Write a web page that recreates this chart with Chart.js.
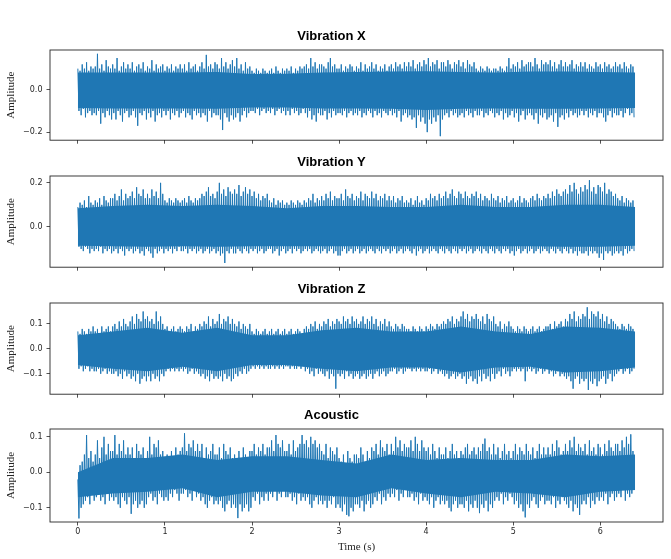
<!DOCTYPE html>
<html>
<head>
<meta charset="utf-8">
<script src="https://cdn.jsdelivr.net/npm/chart.js@4.4.1/dist/chart.umd.min.js"></script>
<style>
  html, body { margin: 0; padding: 0; background: #fff; }
  body { width: 671px; height: 559px; position: relative; overflow: hidden; }
  canvas { position: absolute; left: 0; }
</style>
</head>
<body>
<canvas id="vibXChart" width="671" height="120" style="top:29px"></canvas>
<canvas id="vibYChart" width="671" height="121" style="top:155px"></canvas>
<canvas id="vibZChart" width="671" height="121" style="top:282px"></canvas>
<canvas id="acousticChart" width="671" height="150" style="top:408px"></canvas>
<script>
// Sensor traces, read off the plot as the upper / lower excursion in each
// 0.025 s bin, plus the solid core band every 0.4 s.
const timeTicks = [0, 1, 2, 3, 4, 5, 6];
const binStep = 0.025;
const coreStep = 0.4;

// Vibration X
const vibXHi = [
  .10,.09,.12,.10,.13,.09,.11,.10, .11,.17,.10,.12,.09,.14,.11,.10,
  .12,.10,.15,.09,.11,.13,.10,.12, .10,.13,.09,.11,.12,.10,.13,.09,
  .11,.10,.14,.09,.12,.10,.11,.12, .09,.11,.10,.12,.09,.11,.10,.12,
  .10,.12,.09,.13,.10,.11,.12,.09, .11,.13,.10,.165,.11,.12,.10,.13,
  .12,.10,.15,.11,.13,.10,.12,.14, .11,.15,.10,.12,.09,.13,.10,.11,
  .09,.08,.10,.09,.08,.10,.09,.08, .09,.10,.08,.11,.09,.08,.10,.09,
  .10,.09,.11,.08,.10,.09,.11,.10, .11,.12,.10,.15,.11,.13,.10,.12,
  .12,.11,.10,.13,.15,.11,.12,.10, .10,.12,.09,.11,.10,.12,.11,.09,
  .11,.10,.13,.09,.12,.10,.11,.13, .10,.12,.09,.11,.10,.12,.09,.11,
  .12,.10,.13,.11,.12,.10,.13,.11, .13,.11,.14,.10,.12,.13,.11,.14,
  .12,.15,.11,.13,.12,.14,.10,.13, .13,.11,.14,.12,.10,.13,.12,.14,
  .11,.13,.10,.14,.12,.11,.13,.10, .09,.11,.10,.09,.11,.10,.09,.10,
  .10,.09,.11,.10,.09,.11,.15,.10, .12,.11,.13,.10,.14,.11,.12,.13,
  .13,.11,.15,.12,.10,.14,.12,.13, .12,.14,.11,.13,.10,.12,.14,.11,
  .13,.11,.12,.14,.10,.12,.11,.13, .11,.13,.10,.12,.11,.10,.13,.11,
  .12,.10,.13,.11,.12,.10,.11,.13, .11,.12,.10,.13,.11,.10,.12,.11];
const vibXLo = [
  -.10,-.12,-.09,-.13,-.11,-.10,-.12,-.11, -.12,-.10,-.16,-.11,-.13,-.10,-.12,-.14,
  -.11,-.14,-.10,-.12,-.15,-.11,-.10,-.13, -.12,-.10,-.13,-.17,-.11,-.12,-.10,-.14,
  -.11,-.13,-.10,-.15,-.12,-.11,-.13,-.10, -.12,-.10,-.14,-.11,-.12,-.10,-.13,-.11,
  -.10,-.13,-.11,-.12,-.14,-.10,-.12,-.11, -.13,-.11,-.12,-.15,-.10,-.13,-.11,-.12,
  -.12,-.14,-.19,-.11,-.13,-.15,-.12,-.14, -.13,-.11,-.15,-.12,-.10,-.13,-.11,-.10,
  -.10,-.11,-.09,-.12,-.10,-.09,-.11,-.10, -.11,-.09,-.12,-.10,-.09,-.11,-.10,-.12,
  -.10,-.12,-.09,-.11,-.10,-.12,-.11,-.09, -.11,-.13,-.10,-.14,-.12,-.15,-.11,-.12,
  -.12,-.10,-.14,-.11,-.13,-.10,-.12,-.11, -.11,-.12,-.10,-.13,-.11,-.10,-.12,-.11,
  -.12,-.10,-.13,-.11,-.12,-.10,-.11,-.13, -.10,-.12,-.11,-.13,-.10,-.11,-.12,-.10,
  -.12,-.11,-.13,-.10,-.15,-.12,-.11,-.13, -.12,-.14,-.13,-.18,-.12,-.15,-.13,-.16,
  -.20,-.14,-.16,-.13,-.15,-.12,-.219,-.14, -.12,-.11,-.13,-.10,-.12,-.11,-.13,-.12,
  -.11,-.13,-.10,-.12,-.11,-.13,-.10,-.12, -.12,-.10,-.13,-.11,-.12,-.10,-.11,-.13,
  -.11,-.12,-.10,-.14,-.11,-.13,-.12,-.10, -.13,-.11,-.15,-.12,-.10,-.14,-.12,-.11,
  -.12,-.14,-.11,-.16,-.12,-.13,-.11,-.14, -.13,-.12,-.15,-.11,-.175,-.13,-.12,-.14,
  -.11,-.13,-.10,-.12,-.11,-.13,-.12,-.10, -.12,-.10,-.13,-.11,-.12,-.10,-.13,-.11,
  -.11,-.13,-.15,-.12,-.10,-.13,-.11,-.12, -.12,-.10,-.13,-.11,-.09,-.12,-.11,-.13];
const vibXCoreHi = [.082,.082,.082,.082,.084,.075,.076,.082,.084,.086,.088,.084,.082,.086,.086,.084,.082];
const vibXCoreLo = [-.086,-.088,-.088,-.088,-.09,-.084,-.084,-.088,-.088,-.09,-.095,-.09,-.088,-.09,-.09,-.088,-.086];
const vibXLimits = [-0.238, 0.188];
const vibXTicks = [-0.2, 0.0];

// Vibration Y
const vibYHi = [
  .09,.11,.10,.12,.09,.14,.11,.10, .12,.11,.13,.10,.14,.12,.11,.13,
  .13,.15,.12,.14,.17,.12,.15,.13, .14,.16,.13,.18,.15,.14,.17,.13,
  .15,.13,.17,.14,.16,.13,.20,.15, .12,.11,.13,.12,.11,.13,.12,.11,
  .12,.13,.11,.14,.12,.11,.13,.12, .13,.15,.14,.16,.18,.14,.15,.13,
  .16,.20,.15,.17,.14,.18,.16,.15, .17,.15,.19,.14,.16,.18,.15,.17,
  .14,.16,.13,.15,.12,.14,.13,.15, .12,.11,.13,.10,.12,.11,.12,.10,
  .11,.10,.12,.11,.10,.12,.11,.10, .12,.11,.13,.12,.15,.11,.13,.12,
  .14,.12,.15,.13,.16,.12,.14,.13, .13,.15,.12,.17,.14,.13,.15,.12,
  .14,.13,.16,.12,.15,.14,.13,.16, .13,.15,.12,.14,.13,.15,.12,.14,
  .12,.14,.11,.13,.12,.14,.11,.12, .11,.13,.10,.12,.14,.11,.12,.10,
  .13,.12,.15,.13,.14,.12,.15,.13, .14,.16,.13,.15,.17,.14,.13,.16,
  .15,.13,.16,.14,.13,.15,.14,.16, .13,.15,.12,.14,.13,.12,.15,.13,
  .12,.14,.11,.13,.12,.14,.11,.12, .13,.11,.12,.14,.11,.13,.12,.11,
  .13,.14,.12,.15,.13,.12,.14,.13, .15,.13,.16,.14,.17,.15,.14,.16,
  .17,.15,.19,.16,.20,.17,.15,.18, .16,.19,.17,.212,.16,.18,.15,.19,
  .18,.16,.20,.15,.17,.16,.14,.15, .13,.12,.14,.11,.13,.12,.11,.12];
const vibYLo = [
  -.09,-.10,-.11,-.09,-.10,-.12,-.10,-.11, -.10,-.11,-.09,-.12,-.10,-.11,-.10,-.12,
  -.11,-.10,-.12,-.10,-.11,-.13,-.10,-.11, -.10,-.12,-.11,-.10,-.12,-.11,-.13,-.10,
  -.11,-.12,-.14,-.10,-.12,-.11,-.10,-.12, -.10,-.11,-.10,-.12,-.10,-.11,-.09,-.11,
  -.11,-.10,-.12,-.10,-.11,-.10,-.12,-.11, -.10,-.12,-.11,-.10,-.12,-.11,-.10,-.12,
  -.11,-.13,-.12,-.164,-.11,-.12,-.10,-.12, -.12,-.10,-.11,-.12,-.10,-.11,-.12,-.10,
  -.11,-.10,-.12,-.11,-.10,-.12,-.11,-.10, -.10,-.12,-.11,-.10,-.13,-.11,-.10,-.12,
  -.11,-.10,-.12,-.10,-.11,-.10,-.12,-.11, -.10,-.11,-.10,-.12,-.11,-.10,-.11,-.12,
  -.11,-.10,-.12,-.11,-.10,-.12,-.11,-.13, -.13,-.11,-.10,-.12,-.11,-.10,-.12,-.11,
  -.10,-.12,-.11,-.10,-.12,-.11,-.10,-.11, -.12,-.10,-.11,-.12,-.10,-.11,-.10,-.12,
  -.11,-.10,-.12,-.11,-.10,-.12,-.11,-.10, -.11,-.12,-.10,-.13,-.11,-.10,-.12,-.11,
  -.10,-.12,-.11,-.10,-.11,-.12,-.10,-.11, -.12,-.10,-.11,-.12,-.10,-.11,-.12,-.10,
  -.11,-.10,-.12,-.11,-.10,-.12,-.11,-.10, -.11,-.12,-.10,-.11,-.12,-.10,-.11,-.12,
  -.10,-.11,-.12,-.10,-.11,-.10,-.12,-.11, -.13,-.11,-.10,-.12,-.11,-.10,-.12,-.11,
  -.10,-.12,-.11,-.10,-.12,-.11,-.10,-.11, -.12,-.10,-.11,-.12,-.10,-.11,-.12,-.10,
  -.11,-.12,-.10,-.12,-.11,-.13,-.11,-.12, -.12,-.11,-.13,-.11,-.12,-.11,-.12,-.14,
  -.12,-.15,-.11,-.12,-.11,-.13,-.12,-.11, -.12,-.11,-.13,-.10,-.12,-.11,-.10,-.11];
const vibYCoreHi = [.085,.095,.10,.095,.10,.095,.085,.095,.095,.09,.09,.10,.09,.09,.10,.10,.09];
const vibYCoreLo = [-.086,-.088,-.09,-.088,-.09,-.088,-.088,-.088,-.088,-.088,-.088,-.088,-.088,-.088,-.09,-.09,-.086];
const vibYLimits = [-0.183, 0.231];
const vibYTicks = [0.0, 0.2];

// Vibration Z
const vibZHi = [
  .07,.06,.08,.07,.06,.08,.07,.09, .07,.08,.06,.09,.07,.08,.09,.07,
  .09,.10,.08,.11,.09,.12,.10,.09, .11,.13,.10,.14,.12,.11,.15,.12,
  .13,.11,.12,.10,.15,.11,.13,.10, .08,.09,.07,.08,.09,.07,.08,.09,
  .08,.07,.09,.08,.10,.07,.09,.08, .10,.09,.11,.10,.13,.09,.12,.10,
  .11,.14,.10,.12,.11,.13,.10,.12, .10,.09,.11,.08,.10,.09,.08,.10,
  .07,.06,.08,.07,.06,.07,.08,.06, .07,.08,.06,.07,.08,.06,.07,.08,
  .06,.07,.08,.06,.07,.08,.07,.06, .08,.09,.08,.10,.09,.11,.08,.10,
  .09,.11,.10,.12,.09,.11,.10,.12, .11,.10,.13,.11,.12,.10,.13,.11,
  .12,.10,.11,.13,.10,.12,.11,.13, .10,.12,.09,.11,.10,.12,.09,.11,
  .09,.08,.10,.09,.08,.10,.09,.08, .08,.07,.09,.08,.07,.09,.08,.07,
  .09,.08,.10,.09,.08,.10,.09,.10, .11,.10,.12,.11,.13,.10,.12,.11,
  .13,.15,.12,.14,.11,.13,.12,.14, .12,.11,.13,.10,.14,.12,.11,.13,
  .10,.09,.11,.08,.10,.09,.11,.09, .08,.07,.09,.08,.07,.09,.08,.07,
  .08,.09,.07,.08,.09,.07,.08,.09, .09,.10,.08,.11,.09,.10,.11,.09,
  .12,.11,.14,.12,.15,.11,.13,.12, .14,.13,.167,.12,.15,.14,.13,.15,
  .12,.14,.11,.13,.10,.12,.11,.10, .09,.08,.10,.09,.08,.10,.09,.08];
const vibZLo = [
  -.08,-.07,-.09,-.08,-.07,-.09,-.08,-.09, -.09,-.08,-.10,-.09,-.08,-.10,-.09,-.10,
  -.10,-.09,-.11,-.10,-.12,-.09,-.11,-.10, -.12,-.11,-.13,-.10,-.14,-.12,-.11,-.13,
  -.11,-.13,-.10,-.12,-.11,-.13,-.10,-.11, -.09,-.08,-.09,-.08,-.09,-.08,-.09,-.08,
  -.09,-.08,-.10,-.09,-.08,-.10,-.09,-.10, -.11,-.10,-.12,-.11,-.13,-.10,-.12,-.11,
  -.12,-.11,-.13,-.10,-.12,-.11,-.13,-.12, -.10,-.11,-.09,-.10,-.08,-.10,-.09,-.08,
  -.07,-.08,-.07,-.08,-.07,-.08,-.07,-.08, -.08,-.07,-.08,-.07,-.08,-.07,-.08,-.07,
  -.07,-.08,-.07,-.08,-.08,-.07,-.08,-.07, -.09,-.08,-.10,-.09,-.11,-.08,-.10,-.09,
  -.10,-.11,-.09,-.12,-.10,-.11,-.16,-.10, -.11,-.10,-.12,-.09,-.11,-.10,-.12,-.11,
  -.10,-.12,-.11,-.10,-.12,-.11,-.10,-.12, -.10,-.09,-.11,-.10,-.09,-.11,-.10,-.09,
  -.09,-.08,-.10,-.09,-.08,-.10,-.09,-.08, -.08,-.09,-.08,-.09,-.08,-.09,-.08,-.09,
  -.09,-.08,-.10,-.09,-.08,-.10,-.09,-.10, -.11,-.10,-.12,-.11,-.10,-.12,-.11,-.10,
  -.12,-.11,-.14,-.12,-.11,-.13,-.12,-.14, -.11,-.13,-.10,-.12,-.11,-.13,-.10,-.12,
  -.10,-.09,-.11,-.08,-.10,-.09,-.11,-.09, -.08,-.09,-.08,-.09,-.08,-.13,-.09,-.08,
  -.09,-.08,-.10,-.09,-.08,-.10,-.09,-.08, -.10,-.09,-.11,-.10,-.09,-.11,-.10,-.11,
  -.12,-.11,-.13,-.16,-.12,-.11,-.14,-.12, -.13,-.12,-.165,-.13,-.14,-.12,-.15,-.13,
  -.12,-.11,-.14,-.12,-.10,-.13,-.11,-.10, -.09,-.08,-.10,-.09,-.08,-.10,-.09,-.08];
const vibZCoreHi = [.055,.07,.085,.065,.085,.055,.055,.075,.085,.07,.07,.09,.07,.06,.09,.085,.07];
const vibZCoreLo = [-.065,-.08,-.09,-.072,-.09,-.065,-.065,-.08,-.09,-.075,-.075,-.095,-.075,-.072,-.095,-.09,-.075];
const vibZLimits = [-0.182, 0.184];
const vibZTicks = [-0.1, 0.0, 0.1];

// Acoustic
const acousticHi = [
  -.02,.02,.03,.05,.105,.04,.06,.03, .05,.09,.04,.07,.10,.05,.08,.06,
  .06,.105,.05,.08,.06,.09,.05,.07, .05,.07,.04,.08,.06,.05,.07,.04,
  .06,.10,.05,.08,.07,.09,.05,.06, .04,.05,.03,.06,.04,.07,.05,.06,
  .07,.11,.06,.08,.07,.09,.06,.08, .06,.08,.04,.07,.05,.06,.08,.05,
  .05,.07,.04,.08,.06,.05,.07,.04, .05,.03,.06,.04,.07,.05,.04,.06,
  .06,.08,.05,.07,.06,.08,.05,.07, .07,.09,.06,.105,.08,.07,.09,.06,
  .06,.08,.05,.09,.06,.07,.08,.105, .08,.09,.07,.10,.08,.09,.07,.08,
  .06,.05,.08,.04,.07,.06,.05,.07, .04,.03,.05,.02,.06,.04,.03,.05,
  .05,.04,.07,.05,.03,.06,.04,.07, .06,.08,.05,.09,.07,.06,.08,.05,
  .08,.06,.10,.07,.09,.06,.08,.07, .07,.09,.06,.10,.08,.06,.09,.07,
  .06,.07,.05,.08,.06,.04,.07,.05, .05,.07,.04,.06,.08,.05,.06,.04,
  .06,.05,.07,.08,.05,.06,.07,.05, .07,.06,.08,.095,.06,.07,.05,.08,
  .05,.07,.04,.06,.08,.05,.06,.04, .06,.08,.05,.07,.06,.05,.08,.06,
  .05,.07,.04,.06,.08,.05,.07,.05, .07,.05,.08,.06,.09,.07,.05,.06,
  .08,.06,.09,.07,.10,.06,.08,.07, .06,.08,.05,.09,.06,.07,.05,.08,
  .07,.05,.08,.06,.09,.07,.06,.08, .08,.06,.09,.07,.10,.08,.107,.06];
const acousticLo = [
  -.13,-.10,-.09,-.08,-.07,-.09,-.06,-.08, -.07,-.06,-.08,-.07,-.09,-.06,-.08,-.07,
  -.08,-.07,-.09,-.10,-.07,-.08,-.09,-.07, -.117,-.09,-.08,-.10,-.09,-.08,-.10,-.09,
  -.07,-.06,-.08,-.07,-.09,-.06,-.07,-.08, -.07,-.08,-.06,-.07,-.05,-.06,-.08,-.06,
  -.06,-.05,-.07,-.06,-.08,-.05,-.07,-.06, -.08,-.07,-.09,-.10,-.08,-.07,-.09,-.08,
  -.09,-.08,-.10,-.11,-.09,-.08,-.10,-.09, -.10,-.129,-.09,-.11,-.10,-.09,-.11,-.10,
  -.07,-.08,-.06,-.09,-.07,-.08,-.06,-.08, -.06,-.07,-.05,-.08,-.06,-.07,-.05,-.07,
  -.07,-.06,-.08,-.07,-.09,-.06,-.08,-.07, -.08,-.07,-.09,-.10,-.08,-.07,-.09,-.08,
  -.09,-.08,-.10,-.08,-.09,-.07,-.10,-.09, -.10,-.11,-.09,-.12,-.124,-.10,-.11,-.09,
  -.09,-.10,-.08,-.11,-.09,-.08,-.10,-.09, -.07,-.08,-.06,-.09,-.07,-.08,-.06,-.07,
  -.06,-.07,-.05,-.08,-.06,-.07,-.05,-.07, -.07,-.06,-.08,-.07,-.09,-.06,-.08,-.07,
  -.08,-.09,-.07,-.10,-.08,-.07,-.09,-.08, -.09,-.08,-.10,-.11,-.09,-.08,-.10,-.09,
  -.09,-.10,-.08,-.11,-.09,-.10,-.08,-.10, -.115,-.09,-.10,-.08,-.11,-.09,-.10,-.08,
  -.07,-.08,-.06,-.09,-.07,-.08,-.06,-.07, -.09,-.08,-.10,-.09,-.11,-.127,-.09,-.10,
  -.08,-.07,-.09,-.10,-.08,-.07,-.09,-.08, -.08,-.09,-.07,-.10,-.08,-.09,-.07,-.08,
  -.09,-.10,-.08,-.11,-.09,-.10,-.12,-.09, -.08,-.09,-.07,-.10,-.08,-.09,-.07,-.08,
  -.07,-.08,-.06,-.09,-.07,-.06,-.08,-.07, -.06,-.07,-.05,-.08,-.06,-.07,-.06,-.05];
const acousticCoreHi = [.00,.04,.04,.05,.035,.045,.045,.035,.025,.05,.035,.04,.035,.035,.05,.045,.05];
const acousticCoreLo = [-.07,-.06,-.055,-.045,-.07,-.055,-.055,-.065,-.07,-.045,-.06,-.07,-.055,-.06,-.07,-.055,-.05];
const acousticLimits = [-0.140, 0.122];
const acousticTicks = [-0.1, 0.0, 0.1];

const BLUE = '#1f77b4';
const INK = '#262626';

// full box round the plot area, like the matplotlib spines
const framePlugin = {
  id: 'frame',
  afterDraw(chart) {
    const { ctx, chartArea: a } = chart;
    ctx.save();
    ctx.strokeStyle = INK;
    ctx.lineWidth = 0.9;
    ctx.strokeRect(a.left, a.top, a.right - a.left, a.bottom - a.top);
    ctx.restore();
  }
};

function signalPoints(hi, lo) {
  const pts = [];
  hi.forEach((v, i) => {
    pts.push({ x: i * binStep, y: v });
    pts.push({ x: i * binStep + binStep / 2, y: lo[i] });
  });
  return pts;
}

function bandPoints(vals) {
  return vals.map((v, i) => ({ x: i * coreStep, y: v }));
}

function renderSignalChart(id, title, hi, lo, coreHi, coreLo, limits, yTicks, isBottom) {
  const axisGrid = { drawOnChartArea: false, drawTicks: true, tickLength: 3.5, color: INK, lineWidth: 0.8 };
  return new Chart(document.getElementById(id), {
    type: 'line',
    data: {
      datasets: [
        { data: bandPoints(coreLo), borderWidth: 0, pointRadius: 0, fill: false },
        { data: bandPoints(coreHi), borderWidth: 0, pointRadius: 0, fill: '-1', backgroundColor: BLUE },
        { data: signalPoints(hi, lo), borderColor: BLUE, borderWidth: 1, pointRadius: 0, fill: false, tension: 0 }
      ]
    },
    options: {
      responsive: false,
      animation: false,
      events: [],
      layout: { padding: { left: 0, right: 8, top: 0, bottom: 0 } },
      plugins: {
        legend: { display: false },
        tooltip: { enabled: false },
        title: {
          display: true,
          text: title,
          color: '#000',
          font: { family: 'Liberation Sans', size: 13, weight: 'bold' },
          padding: { top: 0, bottom: 5.4 }
        }
      },
      scales: {
        x: {
          type: 'linear',
          min: -0.32,
          max: 6.72,
          afterBuildTicks: s => { s.ticks = timeTicks.map(v => ({ value: v })); },
          afterFit: s => { s.height = isBottom ? 36 : 6; },
          grid: axisGrid,
          border: { display: false },
          ticks: {
            display: isBottom,
            autoSkip: false,
            maxRotation: 0,
            padding: 2,
            color: INK,
            font: { family: 'DejaVu Sans', size: 8 },
            callback: v => String(v)
          },
          title: {
            display: isBottom,
            text: 'Time (s)',
            color: INK,
            font: { family: 'Liberation Serif', size: 11 },
            padding: { top: 0, bottom: 4 }
          }
        },
        y: {
          min: limits[0],
          max: limits[1],
          afterBuildTicks: s => { s.ticks = yTicks.map(v => ({ value: v })); },
          afterFit: s => { s.width = 50; },
          grid: axisGrid,
          border: { display: false },
          ticks: {
            padding: 4,
            color: INK,
            font: { family: 'DejaVu Sans', size: 8 },
            callback: v => v.toFixed(1).replace('-', '\u2212')
          },
          title: {
            display: true,
            text: 'Amplitude',
            color: INK,
            font: { family: 'Liberation Serif', size: 11 },
            padding: { top: 5, bottom: 0 }
          }
        }
      }
    },
    plugins: [framePlugin]
  });
}

renderSignalChart('vibXChart', 'Vibration X', vibXHi, vibXLo, vibXCoreHi, vibXCoreLo, vibXLimits, vibXTicks, false);
renderSignalChart('vibYChart', 'Vibration Y', vibYHi, vibYLo, vibYCoreHi, vibYCoreLo, vibYLimits, vibYTicks, false);
renderSignalChart('vibZChart', 'Vibration Z', vibZHi, vibZLo, vibZCoreHi, vibZCoreLo, vibZLimits, vibZTicks, false);
renderSignalChart('acousticChart', 'Acoustic', acousticHi, acousticLo, acousticCoreHi, acousticCoreLo, acousticLimits, acousticTicks, true);
</script>
</body>
</html>
